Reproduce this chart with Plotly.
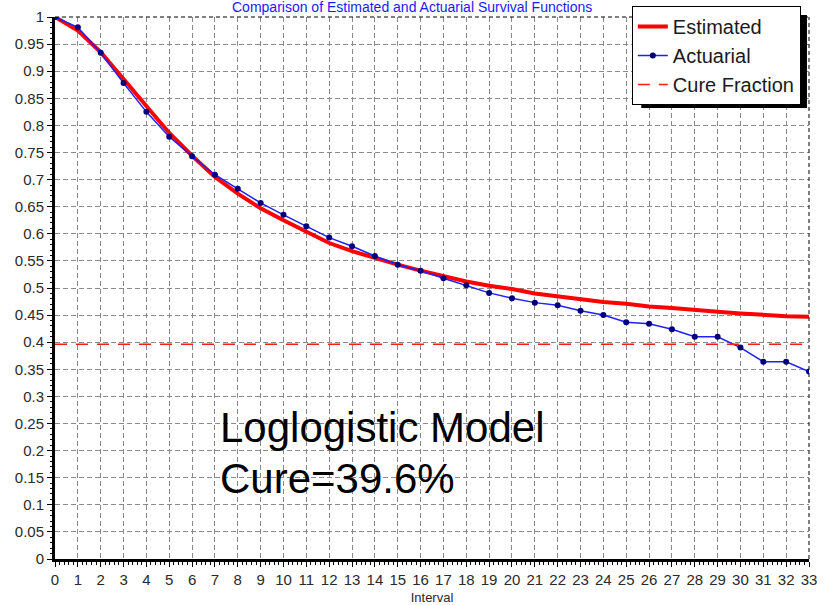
import plotly.graph_objects as go

# Interval index (0..33)
intervals = list(range(34))

# Estimated survival (loglogistic cure model)
estimated = [1.000, 0.975, 0.935, 0.885, 0.834, 0.786, 0.744, 0.705, 0.674, 0.647,
             0.625, 0.605, 0.583, 0.568, 0.555, 0.543, 0.532, 0.522, 0.512, 0.504,
             0.498, 0.490, 0.485, 0.480, 0.474, 0.471, 0.466, 0.463, 0.459, 0.456,
             0.453, 0.450, 0.448, 0.447]

# Actuarial (life-table) survival
actuarial = [1.000, 0.981, 0.934, 0.878, 0.825, 0.779, 0.743, 0.709, 0.683, 0.657,
             0.635, 0.614, 0.593, 0.577, 0.559, 0.543, 0.532, 0.518, 0.505, 0.491,
             0.481, 0.473, 0.468, 0.458, 0.450, 0.437, 0.434, 0.424, 0.410, 0.410,
             0.390, 0.364, 0.364, 0.346]

cure_fraction = 0.396

series_names = ["Estimated", "Actuarial", "Cure Fraction"]
model_label = "Loglogistic Model"
cure_label = "Cure=39.6%"
chart_title = "Comparison of Estimated and Actuarial Survival Functions"
x_title = "Interval"

FONT = "Liberation Sans, Arial, sans-serif"
TICK_COLOR = "#2a2a2a"

fig = go.Figure()

fig.add_trace(go.Scatter(
    x=intervals, y=estimated, name=series_names[0], mode="lines",
    line=dict(color="#ff0000", width=4),
))
fig.add_trace(go.Scatter(
    x=intervals, y=actuarial, name=series_names[1], mode="lines+markers",
    line=dict(color="#1f1fff", width=1.5),
    marker=dict(color="#00007a", size=6, symbol="circle"),
))
fig.add_trace(go.Scatter(
    x=[intervals[0], intervals[-1]], y=[cure_fraction, cure_fraction],
    name=series_names[2], mode="lines",
    line=dict(color="#ff1a1a", width=1.5, dash="12px,9px"),
))

grid_dash = "5px,3px"

fig.update_xaxes(
    range=[0, 33], dtick=1, tick0=0, automargin=False,
    showgrid=True, gridcolor="#8a8a8a", gridwidth=1, griddash=grid_dash,
    showline=True, linecolor="black", linewidth=3,
    ticks="outside", ticklen=5, tickwidth=1, tickcolor="black",
    minor=dict(dtick=0.2, ticks="outside", ticklen=3, tickcolor="black", showgrid=False),
    tickfont=dict(family=FONT, size=15, color=TICK_COLOR),
    title=dict(text=x_title, font=dict(family=FONT, size=13, color=TICK_COLOR), standoff=8),
    zeroline=False,
)
fig.update_yaxes(
    range=[0, 1], dtick=0.05, tick0=0, automargin=False,
    showgrid=True, gridcolor="#8a8a8a", gridwidth=1, griddash=grid_dash,
    showline=True, linecolor="black", linewidth=3,
    ticks="outside", ticklen=5, tickwidth=1, tickcolor="black",
    minor=dict(dtick=0.01, ticks="outside", ticklen=2, tickcolor="black", showgrid=False),
    tickfont=dict(family=FONT, size=15, color=TICK_COLOR),
    zeroline=False,
)

# Dashed frame on the top and right edges of the plot area
fig.add_shape(type="line", xref="paper", yref="paper", x0=0, x1=1, y0=1, y1=1,
              line=dict(color="black", width=1, dash="4px,3px"))
fig.add_shape(type="line", xref="paper", yref="paper", x0=1, x1=1, y0=0, y1=1,
              line=dict(color="black", width=1, dash="4px,3px"))

# Drop shadow behind the legend box (offset right and down)
fig.add_shape(type="rect", xref="paper", yref="paper",
              x0=0.7775, x1=0.9973, y0=0.832, y1=1.0037,
              fillcolor="black", line=dict(width=0), layer="above")

# Model annotation
fig.add_annotation(x=7.13, y=0.243, xref="x", yref="y", text=model_label,
                   showarrow=False, xanchor="left", yanchor="middle",
                   font=dict(family=FONT, size=42, color="black"))
fig.add_annotation(x=7.13, y=0.149, xref="x", yref="y", text=cure_label,
                   showarrow=False, xanchor="left", yanchor="middle",
                   font=dict(family=FONT, size=42, color="black"))

# Chart title along the top edge of the page
fig.add_annotation(x=0.4735, y=1.0185, xref="paper", yref="paper", text=chart_title,
                   showarrow=False, xanchor="center", yanchor="middle",
                   font=dict(family=FONT, size=14, color="#1a1aff"))

fig.update_layout(
    width=824, height=605,
    margin=dict(l=55, r=15, t=17, b=46, autoexpand=False),
    paper_bgcolor="white", plot_bgcolor="white",
    showlegend=True,
    legend=dict(
        x=0.765, y=1.0203, xanchor="left", yanchor="top",
        bgcolor="white", bordercolor="black", borderwidth=1,
        font=dict(family=FONT, size=20, color="#1a1a1a"),
        itemwidth=30, tracegroupgap=0,
    ),
)

fig.write_html("out.html")
